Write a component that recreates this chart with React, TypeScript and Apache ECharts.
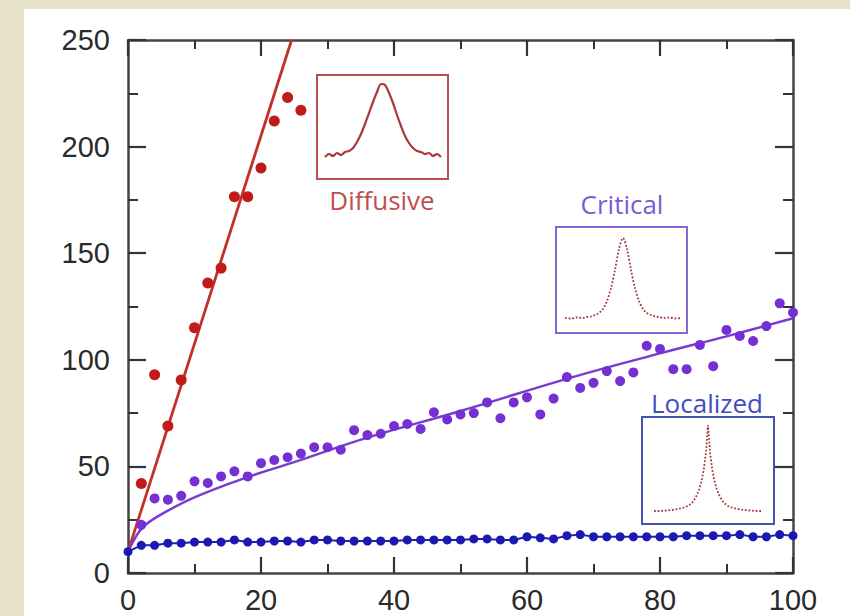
import React, { useEffect, useRef } from "react";
import * as echarts from "echarts";

// ---------- main data ----------
const xTicks = [0, 20, 40, 60, 80, 100];
const yTicks = [0, 50, 100, 150, 200, 250];

const redX = [2, 4, 6, 8, 10, 12, 14, 16, 18, 20, 22, 24, 26];
const redY = [42, 93, 69, 90.5, 115, 136, 143, 176.5, 176.5, 190, 212, 223, 217];
const redFitX = [0, 24.6];
const redFitY = [10, 250];

const purpleX = [
  2, 4, 6, 8, 10, 12, 14, 16, 18, 20, 22, 24, 26, 28, 30, 32, 34, 36, 38, 40, 42, 44, 46, 48, 50,
  52, 54, 56, 58, 60, 62, 64, 66, 68, 70, 72, 74, 76, 78, 80, 82, 84, 86, 88, 90, 92, 94, 96, 98, 100,
];
const purpleY = [
  22.6, 35, 34.4, 36.2, 43, 42.2, 45.3, 47.7, 45.3, 51.5, 53, 54.3, 56, 59, 59, 57.8, 67, 64.7, 65.3,
  68.9, 69.9, 67.6, 75.4, 72, 74.4, 75, 80, 72.6, 80, 82.4, 74.4, 81.8, 91.9, 86.8, 89.2, 94.7, 90,
  94.1, 106.6, 105.1, 95.6, 95.6, 107, 97, 114, 111.2, 108.8, 115.8, 126.5, 122.2,
];
const purpleFitX = [0, 1, 2.3, 5, 10, 18, 25, 36, 50, 67, 80, 90, 100];
const purpleFitY = [10, 16, 21.7, 27.5, 35.5, 45, 52, 63.5, 76, 92, 103, 111, 119.5];

const blueX = [
  0, 2, 4, 6, 8, 10, 12, 14, 16, 18, 20, 22, 24, 26, 28, 30, 32, 34, 36, 38, 40, 42, 44, 46, 48, 50,
  52, 54, 56, 58, 60, 62, 64, 66, 68, 70, 72, 74, 76, 78, 80, 82, 84, 86, 88, 90, 92, 94, 96, 98, 100,
];
const blueY = [
  10, 13, 13, 14, 14, 14.5, 14.5, 14.5, 15.5, 14.5, 14.5, 15, 15, 14.5, 15.5, 15.5, 15, 15, 15, 15,
  15, 15.5, 15.5, 15.5, 15.5, 15.5, 16, 16, 15.5, 15.5, 17, 16.5, 16, 17.5, 18, 17, 17, 17, 17, 17,
  17, 17, 17.5, 17.5, 17.5, 17.5, 18, 17, 17, 18, 17.5,
];

// ---------- inset profiles (offset px from peak, height px from box bottom) ----------
const diffX = [-58, -54, -50, -46, -42, -38, -34, -30, -26, -22, -18, -14, -10, -6, -2, 2, 6, 10, 14, 18, 22, 26, 30, 34, 38, 42, 46, 50, 54, 58];
const diffY = [22, 25, 23, 26, 24, 27, 28, 31, 37, 45, 55, 66, 77, 87, 95, 94, 86, 76, 64, 53, 43, 36, 31, 28, 27, 25, 26, 23, 25, 22];

const critX = [-58, -52, -46, -40, -36, -32, -28, -24, -20, -16, -12, -8, -4, 0, 4, 8, 12, 16, 20, 24, 28, 32, 36, 40, 46, 52, 58];
const critY = [15, 14.5, 15.5, 15, 16, 16.5, 18, 20, 24, 32, 45, 63, 84, 95, 84, 63, 45, 32, 24, 20, 18, 16.5, 16, 15, 15.5, 14.5, 15];

const locX = [-54, -48, -42, -36, -30, -24, -20, -16, -12, -9, -6, -4, -2, 0, 2, 4, 6, 9, 12, 16, 20, 24, 30, 36, 42, 48, 54];
const locY = [13, 13, 13.5, 14, 15, 16.5, 18, 21, 27, 34, 45, 56, 72, 99, 72, 56, 45, 34, 27, 21, 18, 16.5, 15, 14, 13.5, 13, 13];

const insetLabels = ["Diffusive", "Critical", "Localized"];

const zip = (xs: number[], ys: number[]) => xs.map((x, i) => [x, ys[i]]);

export default function App() {
  const ref = useRef<HTMLDivElement>(null);

  useEffect(() => {
    if (!ref.current) return;
    const chart = echarts.init(ref.current, null, { renderer: "svg" });

    const axisColor = "#444";
    const labelFont = "'Liberation Sans', Arial, sans-serif";
    const textFont = "'Open Sans', 'Noto Sans', sans-serif";

    const mainX = (pos: "bottom" | "top", labels: boolean) => ({
      type: "value",
      gridIndex: 0,
      position: pos,
      min: xTicks[0],
      max: xTicks[xTicks.length - 1],
      interval: 20,
      axisLine: { show: true, onZero: false, lineStyle: { color: axisColor, width: 2.5 } },
      axisTick: { show: true, inside: true, length: 16, lineStyle: { color: "#333", width: 2.2 } },
      minorTick: { show: true, splitNumber: 2, length: 9, lineStyle: { color: "#333", width: 2 } },
      splitLine: { show: false },
      axisLabel: {
        show: labels,
        fontSize: 29,
        color: "#2a2a2a",
        fontFamily: labelFont,
        margin: 12,
      },
    });
    const mainY = (pos: "left" | "right", labels: boolean) => ({
      type: "value",
      gridIndex: 0,
      position: pos,
      min: yTicks[0],
      max: yTicks[yTicks.length - 1],
      interval: 50,
      axisLine: { show: true, onZero: false, lineStyle: { color: axisColor, width: 2.5 } },
      axisTick: { show: true, inside: true, length: 18, lineStyle: { color: "#333", width: 2.2 } },
      minorTick: { show: true, splitNumber: 2, length: 10, lineStyle: { color: "#333", width: 2 } },
      splitLine: { show: false },
      axisLabel: {
        show: labels,
        fontSize: 29,
        color: "#2a2a2a",
        fontFamily: labelFont,
        margin: 18,
      },
    });

    const insetBoxes = [
      { left: 317, top: 75, width: 131, height: 104, border: "#b5524e", xmin: -66, xmax: 65 },
      { left: 556, top: 227, width: 131, height: 106, border: "#8466d6", xmin: -67, xmax: 64 },
      { left: 642, top: 417, width: 132, height: 107, border: "#4452b4", xmin: -66, xmax: 66 },
    ];
    const insetData = [zip(diffX, diffY), zip(critX, critY), zip(locX, locY)];

    const grids: any[] = [{ left: 128, top: 40, width: 665, height: 533 }];
    const xAxes: any[] = [mainX("bottom", true), mainX("top", false)];
    const yAxes: any[] = [mainY("left", true), mainY("right", false)];
    const insetSeries: any[] = [];
    insetBoxes.forEach((b, i) => {
      grids.push({
        left: b.left,
        top: b.top,
        width: b.width,
        height: b.height,
        show: true,
        backgroundColor: "#fff",
        borderColor: b.border,
        borderWidth: 2,
        z: 5,
      });
      xAxes.push({ type: "value", gridIndex: i + 1, min: b.xmin, max: b.xmax, show: false });
      yAxes.push({ type: "value", gridIndex: i + 1, min: 0, max: b.height, show: false });
      insetSeries.push({
        type: "line",
        xAxisIndex: i + 2,
        yAxisIndex: i + 2,
        data: insetData[i],
        showSymbol: false,
        smooth: i === 2 ? false : 0.3,
        lineStyle: { color: "#a8383a", width: i === 0 ? 2.2 : 1.8, type: i === 0 ? "solid" : "dotted" },
        z: 6,
      });
    });

    const option: any = {
      animation: false,
      backgroundColor: "transparent",
      grid: grids,
      xAxis: xAxes,
      yAxis: yAxes,
      series: [
        {
          type: "line",
          data: zip(redFitX, redFitY),
          showSymbol: false,
          lineStyle: { color: "#c3302b", width: 2.8 },
          z: 2,
        },
        {
          type: "scatter",
          data: zip(redX, redY),
          symbolSize: 11,
          itemStyle: { color: "#c01a1a", opacity: 1 },
          z: 3,
        },
        {
          type: "line",
          data: zip(purpleFitX, purpleFitY),
          showSymbol: false,
          smooth: 0.4,
          lineStyle: { color: "#7a3bd2", width: 2.5 },
          z: 2,
        },
        {
          type: "scatter",
          data: zip(purpleX, purpleY),
          symbolSize: 10,
          itemStyle: { color: "#7430d2", opacity: 1 },
          z: 3,
        },
        {
          type: "line",
          data: zip(blueX, blueY),
          symbol: "circle",
          symbolSize: 9,
          showSymbol: true,
          lineStyle: { color: "#2020b0", width: 2 },
          itemStyle: { color: "#1a1ab0", opacity: 1 },
          z: 4,
        },
        ...insetSeries,
      ],
      graphic: [
        {
          type: "text",
          x: 382,
          y: 200,
          style: {
            text: insetLabels[0],
            fill: "#c0504d",
            font: `26px ${textFont}`,
            textAlign: "center",
            textVerticalAlign: "middle",
          },
        },
        {
          type: "text",
          x: 622,
          y: 204,
          style: {
            text: insetLabels[1],
            fill: "#7d5ad6",
            font: `26px ${textFont}`,
            textAlign: "center",
            textVerticalAlign: "middle",
          },
        },
        {
          type: "text",
          x: 707,
          y: 403,
          style: {
            text: insetLabels[2],
            fill: "#3f4dc2",
            font: `26px ${textFont}`,
            textAlign: "center",
            textVerticalAlign: "middle",
          },
        },
      ],
    };

    chart.setOption(option);
    return () => chart.dispose();
  }, []);

  return (
    <div
      style={{
        position: "fixed",
        left: 0,
        top: 0,
        width: 850,
        height: 616,
        background: "#e5e2c8",
        overflow: "hidden",
      }}
    >
      <div
        style={{
          position: "absolute",
          left: 24,
          top: 9,
          width: 826,
          height: 607,
          background: "#ffffff",
        }}
      />
      <div ref={ref} style={{ position: "absolute", left: 0, top: 0, width: 850, height: 616 }} />
    </div>
  );
}
